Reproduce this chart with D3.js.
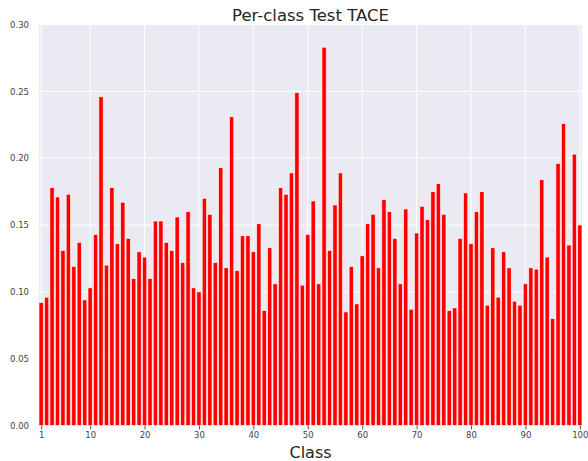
<!DOCTYPE html>
<html>
<head>
<meta charset="utf-8">
<script src="https://cdn.jsdelivr.net/npm/d3@7/dist/d3.min.js"></script>
<style>
  body { margin: 0; background: #fff; }
  svg { display: block; font-family: "DejaVu Sans", sans-serif; }
</style>
</head>
<body>
<svg id="chart" width="588" height="461"></svg>
<script>
const title = "Per-class Test TACE";
const xLabel = "Class";
const classes = d3.range(1, 101);
const tace = [
  0.092, 0.096, 0.178, 0.171, 0.131, 0.173, 0.119, 0.137, 0.094, 0.103,
  0.143, 0.246, 0.120, 0.178, 0.136, 0.167, 0.140, 0.110, 0.130, 0.126,
  0.110, 0.153, 0.153, 0.137, 0.131, 0.156, 0.122, 0.160, 0.103, 0.100,
  0.170, 0.158, 0.122, 0.193, 0.118, 0.231, 0.116, 0.142, 0.142, 0.130,
  0.151, 0.086, 0.133, 0.106, 0.178, 0.173, 0.189, 0.249, 0.105, 0.143,
  0.168, 0.106, 0.283, 0.131, 0.165, 0.189, 0.085, 0.119, 0.091, 0.127,
  0.151, 0.158, 0.118, 0.169, 0.160, 0.140, 0.106, 0.162, 0.087, 0.144,
  0.164, 0.154, 0.175, 0.181, 0.158, 0.086, 0.088, 0.140, 0.174, 0.136,
  0.160, 0.175, 0.090, 0.133, 0.096, 0.130, 0.118, 0.093, 0.090, 0.106,
  0.118, 0.117, 0.184, 0.126, 0.080, 0.196, 0.226, 0.135, 0.203, 0.150
];
const xTicks = [1, 10, 20, 30, 40, 50, 60, 70, 80, 90, 100];
const yTicks = [0.00, 0.05, 0.10, 0.15, 0.20, 0.25, 0.30];

const svg = d3.select("#chart");
const pLeft = 39, pRight = 582, pTop = 24.5, pBottom = 425.5;

const x = d3.scaleLinear().domain([0.6, 100.4]).range([pLeft, pRight]);
const y = d3.scaleLinear().domain([0, 0.30]).range([pBottom, pTop]);
const barW = 0.8;

svg.append("rect")
  .attr("x", pLeft).attr("y", pTop)
  .attr("width", pRight - pLeft).attr("height", pBottom - pTop)
  .attr("fill", "#EAEAF2");

// grid
svg.append("g").selectAll("line").data(yTicks).join("line")
  .attr("x1", pLeft).attr("x2", pRight)
  .attr("y1", d => y(d)).attr("y2", d => y(d))
  .attr("stroke", "#fff").attr("stroke-width", 1);
svg.append("g").selectAll("line").data(xTicks).join("line")
  .attr("x1", d => x(d)).attr("x2", d => x(d))
  .attr("y1", pTop).attr("y2", pBottom)
  .attr("stroke", "#fff").attr("stroke-width", 1);

// bars
svg.append("g").selectAll("rect").data(classes).join("rect")
  .attr("x", (d) => x(d - barW / 2))
  .attr("width", (d) => x(d + barW / 2) - x(d - barW / 2))
  .attr("y", (d, i) => y(tace[i]))
  .attr("height", (d, i) => y(0) - y(tace[i]))
  .attr("fill", "#ff0000")
  .attr("stroke", "#ffffff")
  .attr("stroke-opacity", 0.8)
  .attr("stroke-width", 0.8);

// x axis
const xAxis = d3.axisBottom(x).tickValues(xTicks).tickSize(4).tickPadding(2)
  .tickFormat(d3.format("d"));
const gx = svg.append("g").attr("transform", `translate(0,${pBottom})`).call(xAxis);
gx.select(".domain").remove();
gx.selectAll(".tick line").attr("stroke", "#555").attr("stroke-width", 1);
gx.selectAll(".tick text").attr("fill", "#444").attr("font-size", 8.5)
  .attr("font-family", "DejaVu Sans");

// y axis
const yAxis = d3.axisLeft(y).tickValues(yTicks).tickSize(0).tickPadding(10)
  .tickFormat(d3.format(".2f"));
const gy = svg.append("g").attr("transform", `translate(${pLeft},0)`).call(yAxis);
gy.select(".domain").remove();
gy.selectAll(".tick text").attr("fill", "#444").attr("font-size", 8.5)
  .attr("font-family", "DejaVu Sans");

// title & label
svg.append("text").attr("x", (pLeft + pRight) / 2).attr("y", 20.5)
  .attr("text-anchor", "middle").attr("font-size", 16.5).attr("fill", "#262626")
  .text(title);
svg.append("text").attr("x", (pLeft + pRight) / 2).attr("y", 458)
  .attr("text-anchor", "middle").attr("font-size", 16).attr("fill", "#262626")
  .text(xLabel);
</script>
</body>
</html>
